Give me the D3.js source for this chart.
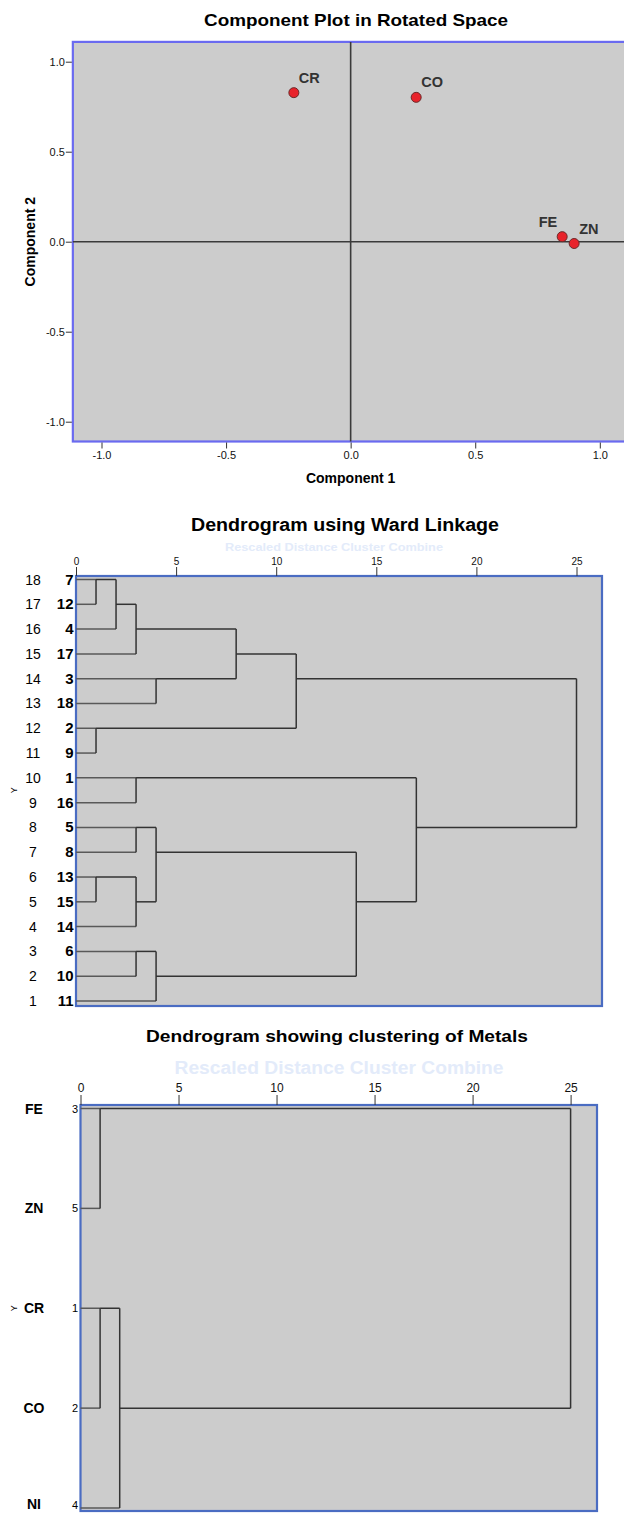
<!DOCTYPE html>
<html>
<head>
<meta charset="utf-8">
<script src="https://cdn.jsdelivr.net/npm/d3@7"></script>
<style>
  body { margin: 0; background: #fff; }
  svg { display: block; }
  text { font-family: "Liberation Sans", Arial, sans-serif; }
  .tick text { font-family: "Liberation Sans Narrow", "Liberation Sans", Arial, sans-serif; }
</style>
</head>
<body>
<svg id="chart" width="624" height="1513"></svg>
<script>
// component plot data (rotated loadings)
var compNames = ["CR", "CO", "FE", "ZN"];
var comp1 = [-0.228, 0.263, 0.849, 0.897];
var comp2 = [0.828, 0.802, 0.028, -0.010];
var compTicks = [-1.0, -0.5, 0.0, 0.5, 1.0];

// ward dendrogram, cases top to bottom
var caseOrder = ["7", "12", "4", "17", "3", "18", "2", "9", "1", "16", "5", "8", "13", "15", "14", "6", "10", "11"];
// [child a, child b, rescaled distance]; "mN" = result of merge N
var wardMerges = [
    ["7", "12", 1], ["m0", "4", 2], ["m1", "17", 3], ["3", "18", 4], ["m2", "m3", 8],
    ["2", "9", 1], ["m4", "m5", 11], ["1", "16", 3], ["5", "8", 3], ["13", "15", 1],
    ["m9", "14", 3], ["m8", "m10", 4], ["6", "10", 3], ["m12", "11", 4], ["m11", "m13", 14],
    ["m7", "m14", 17], ["m6", "m15", 25]
];
var distTicks = [0, 5, 10, 15, 20, 25];

// metals dendrogram
var metalNames = ["FE", "ZN", "CR", "CO", "NI"];
var metalIds = ["3", "5", "1", "2", "4"];
var metalMerges = [["FE", "ZN", 1], ["CR", "CO", 1], ["m1", "NI", 2], ["m0", "m2", 25]];

var svg = d3.select("#chart");
var plotFill = "#cccccc";

function title(txt, cx, y, size, len) {
    svg.append("text")
        .attr("x", cx).attr("y", y)
        .attr("text-anchor", "middle")
        .attr("font-weight", "bold")
        .attr("font-size", size)
        .attr("textLength", len)
        .attr("lengthAdjust", "spacingAndGlyphs")
        .text(txt);
}

function styleAxis(g, size) {
    g.select(".domain").remove();
    g.selectAll(".tick line").attr("stroke", "#333");
    g.selectAll(".tick text").attr("font-size", size).attr("fill", "#111");
}

/* ---------- component plot ---------- */
function drawComponentPlot() {
    var x = d3.scaleLinear().domain([-1, 1]).range([101.5, 599.8]);
    var y = d3.scaleLinear().domain([-1, 1]).range([421.7, 61.7]);
    var left = x(-1.115), right = x(1.115), top = y(1.11), bottom = y(-1.11);

    title("Component Plot in Rotated Space", 356, 26, 17, 304);

    svg.append("rect")
        .attr("x", left).attr("y", top)
        .attr("width", right - left).attr("height", bottom - top)
        .attr("fill", plotFill)
        .attr("stroke", "#6a6af0").attr("stroke-width", 2.2);

    // zero lines
    svg.append("line")
        .attr("x1", x(0)).attr("x2", x(0)).attr("y1", top).attr("y2", bottom)
        .attr("stroke", "#3a3a3a").attr("stroke-width", 1.6);
    svg.append("line")
        .attr("x1", left).attr("x2", right).attr("y1", y(0)).attr("y2", y(0))
        .attr("stroke", "#3a3a3a").attr("stroke-width", 1.6);

    var fmt = function(d) { return d.toFixed(1); };
    var ay = svg.append("g").attr("transform", "translate(" + (left - 1) + ",0)")
        .call(d3.axisLeft(y).tickValues(compTicks).tickFormat(fmt).tickSize(6).tickPadding(1));
    styleAxis(ay, 11);
    var ax = svg.append("g").attr("transform", "translate(0," + (bottom + 1) + ")")
        .call(d3.axisBottom(x).tickValues(compTicks).tickFormat(fmt).tickSize(6).tickPadding(3));
    styleAxis(ax, 11);

    svg.append("text")
        .attr("x", x(0)).attr("y", 483)
        .attr("text-anchor", "middle").attr("font-weight", "bold").attr("font-size", 14)
        .text("Component 1");
    svg.append("text")
        .attr("transform", "translate(35," + y(0) + ") rotate(-90)")
        .attr("text-anchor", "middle").attr("font-weight", "bold").attr("font-size", 14)
        .text("Component 2");

    var pts = compNames.map(function(n, i) {
        return { name: n, px: x(comp1[i]), py: y(comp2[i]) };
    });

    svg.selectAll(".pt").data(pts).enter().append("circle")
        .attr("class", "pt")
        .attr("cx", function(d) { return d.px; })
        .attr("cy", function(d) { return d.py; })
        .attr("r", 5)
        .attr("fill", "#e8232b")
        .attr("stroke", "#6b2a2a").attr("stroke-width", 1);

    // label goes up-right, unless a neighbour sits just to the right
    svg.selectAll(".ptlab").data(pts).enter().append("text")
        .attr("class", "ptlab")
        .each(function(d) {
            var crowded = pts.some(function(o) {
                return o !== d && o.px > d.px && o.px - d.px < 25 && Math.abs(o.py - d.py) < 25;
            });
            d3.select(this)
                .attr("x", crowded ? d.px - 5 : d.px + 5)
                .attr("y", d.py - 10)
                .attr("text-anchor", crowded ? "end" : "start");
        })
        .attr("font-weight", "bold").attr("font-size", 14.5).attr("fill", "#333")
        .text(function(d) { return d.name; });
}

/* ---------- dendrogram helper ---------- */
function drawLinks(leaves, merges, x, y) {
    var n = leaves.length;
    var nodes = {};
    leaves.forEach(function(l, i) { nodes[l] = { row: n - i, dist: 0, leaf: true }; });

    var g = svg.append("g").attr("fill", "none");
    merges.forEach(function(m, i) {
        var a = nodes[m[0]], b = nodes[m[1]], d = m[2];
        [a, b].forEach(function(c) {
            g.append("line")
                .attr("x1", x(c.dist)).attr("x2", x(d))
                .attr("y1", y(c.row)).attr("y2", y(c.row))
                .attr("stroke", c.leaf ? "#595959" : "#333")
                .attr("stroke-width", 1.5);
        });
        g.append("line")
            .attr("x1", x(d)).attr("x2", x(d))
            .attr("y1", y(a.row)).attr("y2", y(b.row))
            .attr("stroke", "#333").attr("stroke-width", 1.5);
        nodes["m" + i] = { row: Math.ceil((a.row + b.row) / 2), dist: d, leaf: false };
    });
}

/* ---------- ward dendrogram ---------- */
function drawWard() {
    var n = caseOrder.length;
    var x = d3.scaleLinear().domain([0, 25]).range([76, 576.5]);
    var y = d3.scaleLinear().domain([1, n]).range([1001, 579.5]);
    var left = x(0), right = 602, top = 576, bottom = 1006;

    title("Dendrogram using Ward Linkage", 345, 531, 18, 308);
    svg.append("text")
        .attr("x", 334).attr("y", 551)
        .attr("text-anchor", "middle").attr("font-weight", "bold").attr("font-size", 11)
        .attr("textLength", 218).attr("lengthAdjust", "spacingAndGlyphs")
        .attr("fill", "#e3ebfa")
        .text("Rescaled Distance Cluster Combine");

    svg.append("rect")
        .attr("x", left).attr("y", top)
        .attr("width", right - left).attr("height", bottom - top)
        .attr("fill", plotFill)
        .attr("stroke", "#4a6cc2").attr("stroke-width", 2.2);

    var ax = svg.append("g").attr("transform", "translate(0," + top + ")")
        .call(d3.axisTop(x).tickValues(distTicks).tickSize(9).tickPadding(2));
    styleAxis(ax, 10);

    drawLinks(caseOrder, wardMerges, x, y);

    caseOrder.forEach(function(c, i) {
        var row = n - i;
        svg.append("text")
            .attr("x", 33).attr("y", y(row) + 5)
            .attr("text-anchor", "middle").attr("font-size", 14)
            .text(row);
        svg.append("text")
            .attr("x", 73.5).attr("y", y(row) + 5)
            .attr("text-anchor", "end").attr("font-weight", "bold").attr("font-size", 15)
            .text(c);
    });

    svg.append("text")
        .attr("transform", "translate(17," + y((n + 1) / 2) + ") rotate(-90)")
        .attr("text-anchor", "middle").attr("font-size", 9)
        .text("Y");
}

/* ---------- metals dendrogram ---------- */
function drawMetals() {
    var n = metalNames.length;
    var x = d3.scaleLinear().domain([0, 25]).range([80.5, 570.6]);
    var y = d3.scaleLinear().domain([1, n]).range([1508, 1108.5]);
    var left = x(0), right = 597, top = 1105, bottom = 1511;

    title("Dendrogram showing clustering of Metals", 337, 1042, 17, 382);
    svg.append("text")
        .attr("x", 339).attr("y", 1074)
        .attr("text-anchor", "middle").attr("font-weight", "bold").attr("font-size", 18)
        .attr("textLength", 329).attr("lengthAdjust", "spacingAndGlyphs")
        .attr("fill", "#e3ebfa")
        .text("Rescaled Distance Cluster Combine");

    svg.append("rect")
        .attr("x", left).attr("y", top)
        .attr("width", right - left).attr("height", bottom - top)
        .attr("fill", plotFill)
        .attr("stroke", "#4a6cc2").attr("stroke-width", 2.2);

    var ax = svg.append("g").attr("transform", "translate(0," + top + ")")
        .call(d3.axisTop(x).tickValues(distTicks).tickSize(10).tickPadding(3));
    styleAxis(ax, 12);

    drawLinks(metalNames, metalMerges, x, y);

    metalNames.forEach(function(m, i) {
        var row = n - i;
        // keep the bottom label inside the page
        var ty = Math.min(y(row) + 5, 1509);
        svg.append("text")
            .attr("x", 34).attr("y", ty)
            .attr("text-anchor", "middle").attr("font-weight", "bold").attr("font-size", 14)
            .text(m);
        svg.append("text")
            .attr("x", 78).attr("y", Math.min(y(row) + 4, 1509))
            .attr("text-anchor", "end").attr("font-size", 11)
            .text(metalIds[i]);
    });

    svg.append("text")
        .attr("transform", "translate(17," + y(3) + ") rotate(-90)")
        .attr("text-anchor", "middle").attr("font-size", 9)
        .text("Y");
}

drawComponentPlot();
drawWard();
drawMetals();
</script>
</body>
</html>
